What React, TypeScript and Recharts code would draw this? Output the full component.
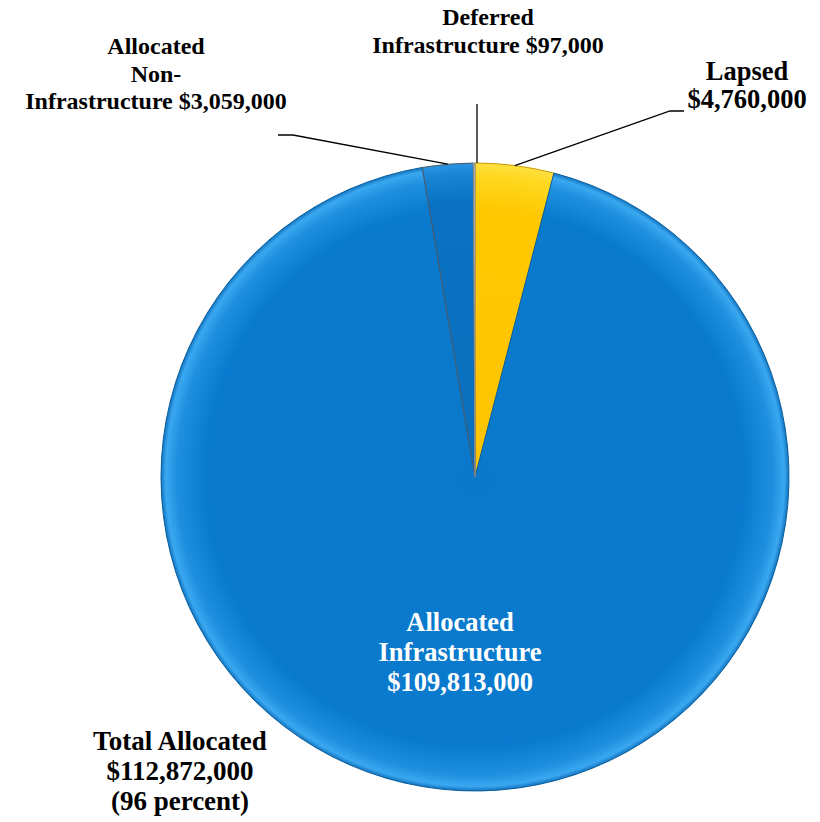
import React from "react";
import { PieChart, Pie, Cell } from "recharts";

const categories = [
  "Lapsed",
  "Allocated Infrastructure",
  "Allocated Non-Infrastructure",
  "Deferred Infrastructure",
];
const amounts = [4760000, 109813000, 3059000, 97000];
const labelLines = [
  ["Lapsed", "$4,760,000"],
  ["Allocated", "Infrastructure", "$109,813,000"],
  ["Allocated", "Non-", "Infrastructure $3,059,000"],
  ["Deferred", "Infrastructure $97,000"],
];
const totalLines = ["Total Allocated", "$112,872,000", "(96 percent)"];

const data = categories.map((name, i) => ({ name, value: amounts[i] }));

const fills = ["url(#gYellow)", "url(#gBlue)", "url(#gBlueDark)", "#c8c8c8"];
const strokes = ["#c79a00", "#0a5e9c", "#4d5a66", "#8a8a8a"];

const CX = 475;
const CY = 477;
const R = 314;
const FONT = "'Liberation Serif', 'Times New Roman', serif";

// label layout: text anchor center, first baseline, line gap, font size, leader elbow
const layout = [
  { x: 747, y: 80, gap: 28, size: 26.5, color: "#000", elbow: [670, 111], end: [684, 111] },
  { x: 460, y: 631, gap: 30, size: 26.5, color: "#ffffff", elbow: null, end: null },
  { x: 156, y: 54, gap: 27.5, size: 24, color: "#000", elbow: [293, 135], end: [278, 135] },
  { x: 488, y: 25, gap: 27.5, size: 24, color: "#000", elbow: [477, 104], end: [477, 104] },
];

const RAD = Math.PI / 180;

const renderLabel = (props: any) => {
  const { cx, cy, midAngle, outerRadius, index } = props;
  const L = layout[index];
  const lines = labelLines[index];
  const sx = cx + outerRadius * Math.cos(-midAngle * RAD);
  const sy = cy + outerRadius * Math.sin(-midAngle * RAD);
  let lead = null;
  if (L.elbow) {
    const startX = index === 3 ? L.elbow[0] : sx;
    lead = (
      <polyline
        points={`${startX},${sy} ${L.elbow[0]},${L.elbow[1]} ${L.end![0]},${L.end![1]}`}
        fill="none"
        stroke="#000"
        strokeWidth={1.3}
      />
    );
  }
  return (
    <g key={`lbl-${index}`}>
      {lead}
      <text
        x={L.x}
        y={L.y}
        textAnchor="middle"
        fontFamily={FONT}
        fontWeight="bold"
        fontSize={L.size}
        fill={L.color}
      >
        {lines.map((t, i) => (
          <tspan key={i} x={L.x} y={L.y + i * L.gap}>
            {t}
          </tspan>
        ))}
      </text>
    </g>
  );
};

export default function App() {
  return (
    <div style={{ position: "absolute", left: 0, top: 0, background: "#fff" }}>
      <PieChart width={820} height={822} margin={{ top: 0, right: 0, bottom: 0, left: 0 }}>
        <defs>
          <radialGradient id="gBlue" gradientUnits="userSpaceOnUse" cx={CX} cy={CY} r={R}>
            <stop offset="0" stopColor="#0a79cb" />
            <stop offset="0.86" stopColor="#0a7ace" />
            <stop offset="0.95" stopColor="#1f90e0" />
            <stop offset="0.985" stopColor="#3aa8f0" />
            <stop offset="1" stopColor="#1274c0" />
          </radialGradient>
          <radialGradient id="gBlueDark" gradientUnits="userSpaceOnUse" cx={CX} cy={CY} r={R}>
            <stop offset="0" stopColor="#0a6fbd" />
            <stop offset="0.88" stopColor="#0a72c2" />
            <stop offset="0.97" stopColor="#1a86d6" />
            <stop offset="1" stopColor="#2a96e2" />
          </radialGradient>
          <radialGradient id="gYellow" gradientUnits="userSpaceOnUse" cx={CX} cy={CY} r={R}>
            <stop offset="0" stopColor="#fcc400" />
            <stop offset="0.85" stopColor="#ffc800" />
            <stop offset="0.96" stopColor="#ffd820" />
            <stop offset="1" stopColor="#ffe040" />
          </radialGradient>
        </defs>
        <Pie
          data={data}
          dataKey="value"
          nameKey="name"
          cx={CX}
          cy={CY}
          outerRadius={R}
          startAngle={90}
          endAngle={-270}
          isAnimationActive={false}
          labelLine={false}
          label={renderLabel}
        >
          {data.map((d, i) => (
            <Cell key={d.name} fill={fills[i]} stroke={strokes[i]} strokeWidth={1} />
          ))}
        </Pie>
        <text
          x={180}
          y={750}
          textAnchor="middle"
          fontFamily={FONT}
          fontWeight="bold"
          fontSize={27}
          fill="#000"
        >
          {totalLines.map((t, i) => (
            <tspan key={i} x={180} y={750 + i * 30}>
              {t}
            </tspan>
          ))}
        </text>
      </PieChart>
    </div>
  );
}
